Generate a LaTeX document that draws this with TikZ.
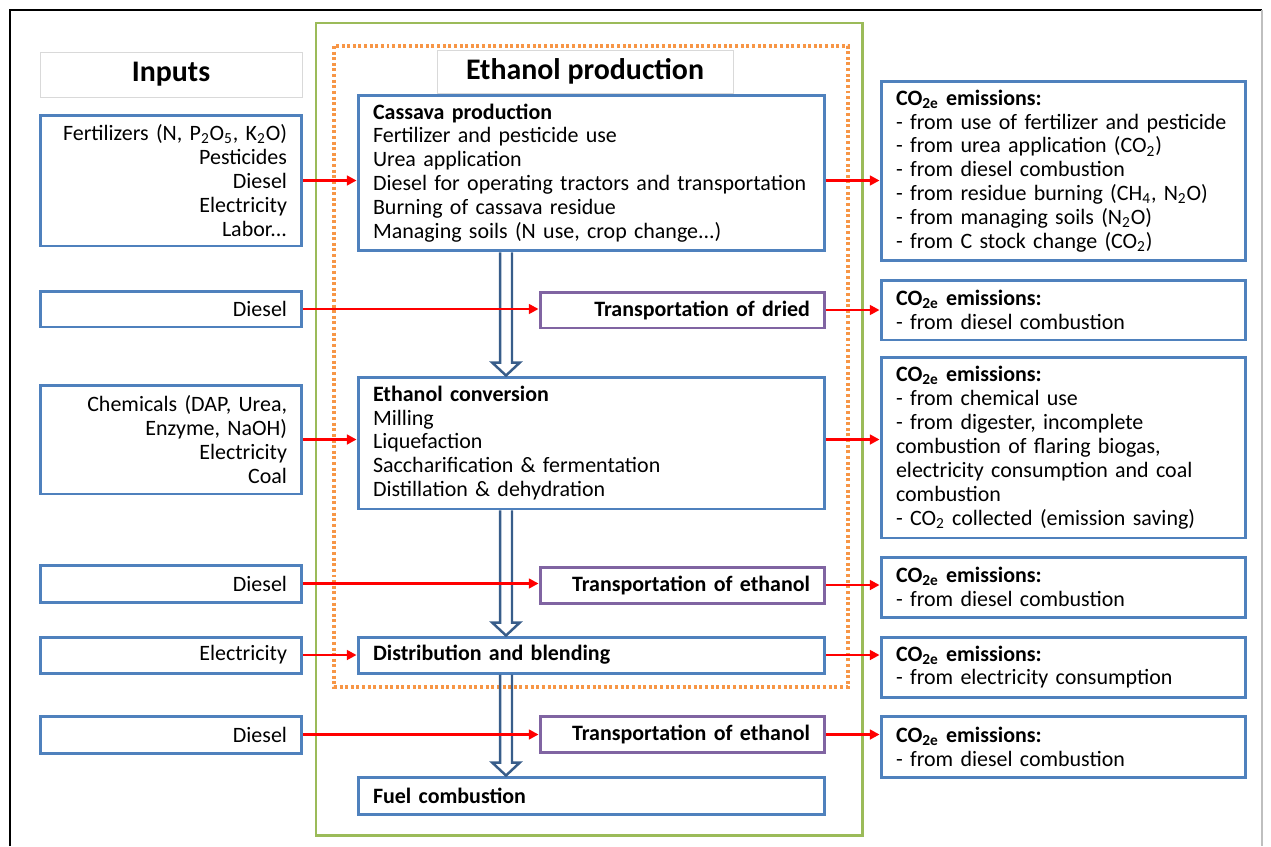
\documentclass[tikz,border=0pt]{standalone}
\usepackage{fontspec}
\setmainfont{Carlito}
\usetikzlibrary{arrows.meta,calc}

\definecolor{boxblue}{HTML}{4F81BD}
\definecolor{flowblue}{HTML}{385D8A}
\definecolor{framegreen}{HTML}{9BBB59}
\definecolor{stageorange}{HTML}{F79646}
\definecolor{transpurple}{HTML}{8064A2}
\definecolor{headgray}{HTML}{D9D9D9}

% hollow downward arrow between two stage boxes
\newcommand\flowdown[2]{%
  \draw[flowline] let \p1=(#1.south -| spine), \p2=(#2.north -| spine) in
    (\x1-3.4pt,\y1) -- (\x1-3.4pt,\y2+7.4pt) -- (\x1-7.9pt,\y2+7.4pt)
    -- (\x2,\y2) -- (\x1+7.9pt,\y2+7.4pt) -- (\x1+3.4pt,\y2+7.4pt) -- (\x1+3.4pt,\y1);}

\begin{document}
\begin{tikzpicture}[x=0.02cm, y=-0.02cm,
  font=\fontsize{12.5}{13.6}\selectfont,
  box/.style={draw=boxblue, line width=1.7pt, fill=white, inner xsep=0.3cm, inner ysep=0pt},
  inbox/.style={box, minimum width=5.24cm, text width=4.64cm, align=right},
  stagebox/.style={box, minimum width=9.34cm, text width=8.74cm, align=left},
  transbox/.style={box, draw=transpurple, minimum width=5.7cm, text width=5.1cm, align=right,
    minimum height=0.72cm, font=\fontsize{12.5}{13.6}\selectfont\bfseries},
  outbox/.style={box, minimum width=7.3cm, text width=6.7cm, align=left},
  head/.style={draw=headgray, line width=0.5pt, fill=white, font=\fontsize{17}{20}\selectfont\bfseries},
  flowline/.style={draw=flowblue, line width=1.4pt, line join=miter}]
  \useasboundingbox (0,0) rectangle (1271,846);

  % frames
  \draw[line width=1pt] (10,846) -- (10,10) -- (1262,10);
  \draw[gray!50, line width=0.6pt] (1262,10) -- (1262,846);
  \draw[framegreen, line width=1.7pt] (316,23) rectangle (862,835);
  \draw[stageorange, line width=1.9pt, dash pattern=on 1.7pt off 1.5pt] (334,46) rectangle (848,687);

  \node[head, minimum width=5.24cm, minimum height=0.9cm] (inputs) at (171,74.5) {Inputs};
  \node[head, minimum width=5.92cm, minimum height=0.86cm] (ethprod) at (585,71.5) {Ethanol production};

  % inputs
  \node[inbox, minimum height=2.62cm] (fert) at (171,180.5)
    {Fertilizers (N, P\textsubscript{2}O\textsubscript{5}, K\textsubscript{2}O)\\Pesticides\\Diesel\\Electricity\\Labor...};
  \node[inbox, minimum height=0.72cm] (diesel1) at (171,309) {Diesel};
  \node[inbox, minimum height=2.18cm] (chem) at (171,439.5)
    {Chemicals (DAP, Urea,\\Enzyme, NaOH)\\Electricity\\Coal};
  \node[inbox, minimum height=0.74cm] (diesel2) at (171,583.5) {Diesel};
  \node[inbox, minimum height=0.72cm] (elec) at (171,655) {Electricity};
  \node[inbox, minimum height=0.74cm] (diesel3) at (171,734.5) {Diesel};

  % ethanol production stages
  \node[stagebox, minimum height=3.12cm] (cassava) at (591.5,173)
    {\textbf{Cassava production}\\Fertilizer and pesticide use\\Urea application\\
     Diesel for operating tractors and transportation\\Burning of cassava residue\\
     Managing soils (N use, crop change...)};
  \node[transbox] (dried) at (682.5,310) {Transportation of dried};
  \node[stagebox, minimum height=2.64cm] (conversion) at (591.5,443)
    {\textbf{Ethanol conversion}\\Milling\\Liquefaction\\Saccharification \& fermentation\\
     Distillation \& dehydration};
  \node[transbox] (ethanol1) at (682.5,585) {Transportation of ethanol};
  \node[stagebox, minimum height=0.72cm, font=\fontsize{12.5}{13.6}\selectfont\bfseries] (blending)
    at (591.5,655) {Distribution and blending};
  \node[transbox] (ethanol2) at (682.5,734.5) {Transportation of ethanol};
  \node[stagebox, minimum height=0.74cm, font=\fontsize{12.5}{13.6}\selectfont\bfseries] (combustion)
    at (591.5,795.5) {Fuel combustion};

  % emissions
  \node[outbox, minimum height=3.6cm] (emcassava) at (1063.5,171)
    {\textbf{CO\textsubscript{2e} emissions:}\\- from use of fertilizer and pesticide\\
     - from urea application (CO\textsubscript{2})\\- from diesel combustion\\
     - from residue burning (CH\textsubscript{4}, N\textsubscript{2}O)\\
     - from managing soils (N\textsubscript{2}O)\\- from C stock change (CO\textsubscript{2})};
  \node[outbox, minimum height=1.2cm] (emdried) at (1063.5,310)
    {\textbf{CO\textsubscript{2e} emissions:}\\- from diesel combustion};
  \node[outbox, minimum height=3.62cm] (emconversion) at (1063.5,447.5)
    {\textbf{CO\textsubscript{2e} emissions:}\\- from chemical use\\- from digester, incomplete\\
     combustion of flaring biogas,\\electricity consumption and coal\\combustion\\
     - CO\textsubscript{2} collected (emission saving)};
  \node[outbox, minimum height=1.2cm] (emethanol1) at (1063.5,587)
    {\textbf{CO\textsubscript{2e} emissions:}\\- from diesel combustion};
  \node[outbox, minimum height=1.2cm] (emblending) at (1063.5,667)
    {\textbf{CO\textsubscript{2e} emissions:}\\- from electricity consumption};
  \node[outbox, minimum height=1.22cm] (emethanol2) at (1063.5,746.5)
    {\textbf{CO\textsubscript{2e} emissions:}\\- from diesel combustion};

  % main flow
  \coordinate (spine) at (506,0);
  \flowdown{cassava}{conversion}
  \flowdown{conversion}{blending}
  \flowdown{blending}{combustion}

  \path[-{Triangle[length=5.5pt,width=5.5pt]},
        every edge/.style={draw=red, line width=1.6pt}]
    (fert.east) edge (fert.east -| cassava.west)
    (diesel1.east) edge (diesel1.east -| dried.west)
    (chem.east) edge (chem.east -| conversion.west)
    (diesel2.east) edge (diesel2.east -| ethanol1.west)
    (elec.east) edge (elec.east -| blending.west)
    (diesel3.east) edge (diesel3.east -| ethanol2.west)

    (fert.east -| cassava.east) edge (fert.east -| emcassava.west)
    (dried.east) edge (dried.east -| emdried.west)
    (chem.east -| conversion.east) edge (chem.east -| emconversion.west)
    (ethanol1.east) edge (ethanol1.east -| emethanol1.west)
    (blending.east) edge (blending.east -| emblending.west)
    (ethanol2.east) edge (ethanol2.east -| emethanol2.west);
\end{tikzpicture}
\end{document}
